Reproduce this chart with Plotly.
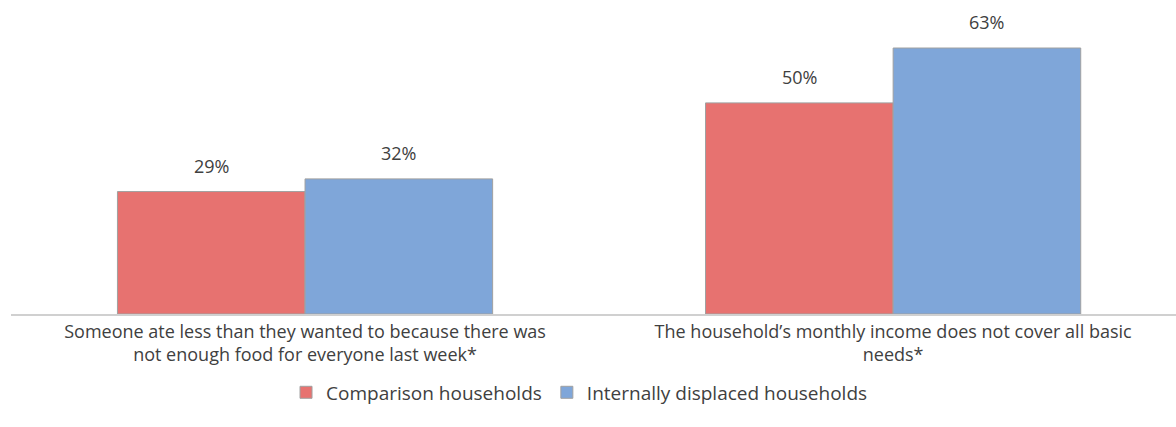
import plotly.graph_objects as go

categories = [
    "Someone ate less than they wanted to because there was<br>not enough food for everyone last week*",
    "The household\u2019s monthly income does not cover all basic<br>needs*",
]
series_names = ["Comparison households", "Internally displaced households"]
comparison = [29, 50]
displaced = [32, 63]

fill_colors = ["#E77270", "#7FA6D9"]
text_color = "#404040"
font_family = "Open Sans, DejaVu Sans, sans-serif"
bar_gap = 0.362

x_pos = list(range(len(categories)))
series_values = [comparison, displaced]

fig = go.Figure()
for name, vals, col in zip(series_names, series_values, fill_colors):
    fig.add_trace(go.Bar(
        x=x_pos, y=vals, name=name,
        marker=dict(color=col, line=dict(color="#A0A0A0", width=1)),
    ))

# value labels above each bar, centred on the bar within its group
bar_w = (1 - bar_gap) / len(series_values)
for k, vals in enumerate(series_values):
    offset = (k - (len(series_values) - 1) / 2) * bar_w
    for i, v in zip(x_pos, vals):
        fig.add_annotation(
            x=i + offset, y=v, text=f"{v}%", showarrow=False,
            xanchor="center", yanchor="middle", yshift=26,
            font=dict(size=18, color=text_color, family=font_family),
        )

fig.update_layout(
    width=1176, height=427,
    margin=dict(l=11, r=0, t=10, b=113),
    paper_bgcolor="white", plot_bgcolor="white",
    barmode="group", bargap=bar_gap, bargroupgap=0,
    font=dict(family=font_family, size=19, color=text_color),
    showlegend=True,
    legend=dict(orientation="h", x=0.488, xanchor="center", y=-0.258, yanchor="middle",
                font=dict(size=19, color=text_color), traceorder="normal",
                itemwidth=30, tracegroupgap=0),
)
fig.update_xaxes(
    tickmode="array", tickvals=x_pos, ticktext=categories,
    range=[-0.5, 1.481], showgrid=False, zeroline=False,
    showline=True, linecolor="#D0D0D0", linewidth=2, ticks="",
    ticklabelstandoff=0,
    tickfont=dict(size=18, color=text_color),
)
fig.update_yaxes(range=[0, 72], visible=False)

fig.write_html("out.html")
